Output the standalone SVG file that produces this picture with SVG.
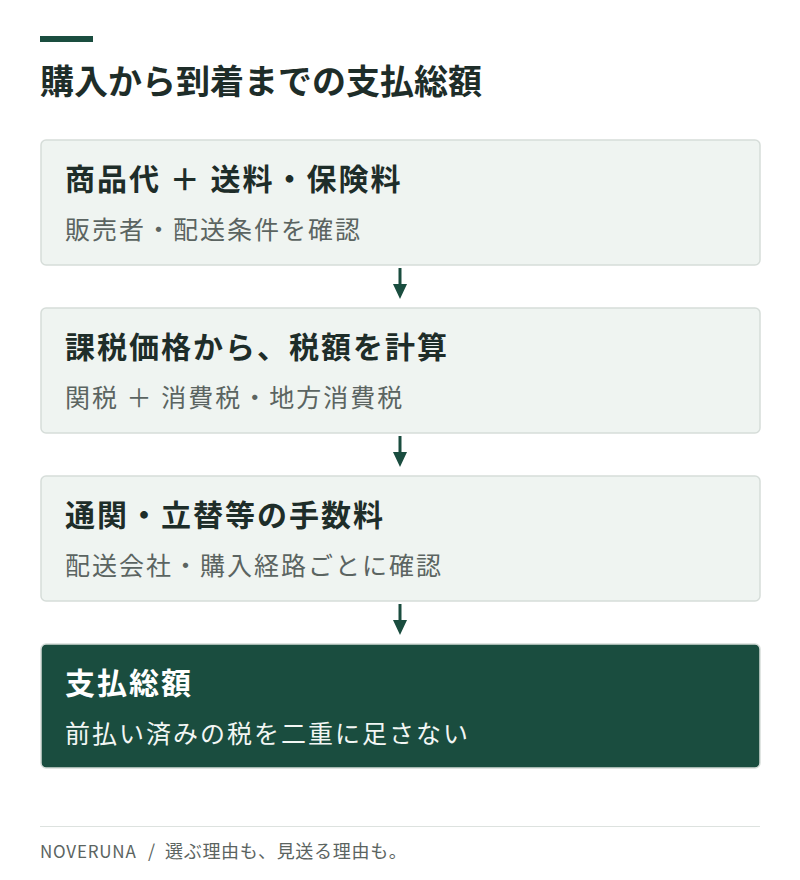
<svg xmlns="http://www.w3.org/2000/svg" width="800" height="880" viewBox="0 0 800 880">
<style>
text{font-family:"Noto Sans CJK JP","Noto Sans",sans-serif;}
.box{fill:#eff4f1;stroke:#d6ddd9;stroke-width:1.5;}
.boxd{fill:#1a4d3f;stroke:#d6ddd9;stroke-width:1.5;}
.t{font-size:30px;font-weight:700;fill:#1e2d29;letter-spacing:2px;}
.s{font-size:25px;fill:#5b6461;letter-spacing:2px;}
.tw{font-size:30px;font-weight:700;fill:#ffffff;letter-spacing:2px;}
.sw{font-size:25px;fill:#f2f6f4;letter-spacing:2px;}
.arr{stroke:#1a4d3f;stroke-width:3;}
.head{fill:#1a4d3f;}
.ft{font-size:18px;fill:#5b6461;}
</style>
<rect width="800" height="880" fill="#ffffff"/>
<g id="header">
<rect x="40" y="36" width="53" height="6" fill="#1a4d3f"/>
<text x="40" y="94" style="font-size:34px;font-weight:700;fill:#1e2d29;">購入から到着までの支払総額</text>
</g>
<g id="node1">
<rect class="box" x="41" y="140" width="719" height="125" rx="5"/>
<text class="t" x="65" y="190">商品代 ＋ 送料・保険料</text>
<text class="s" x="65" y="239">販売者・配送条件を確認</text>
</g>
<g id="node2">
<rect class="box" x="41" y="308" width="719" height="125" rx="5"/>
<text class="t" x="65" y="358">課税価格から、税額を計算</text>
<text class="s" x="65" y="407">関税 ＋ 消費税・地方消費税</text>
</g>
<g id="node3">
<rect class="box" x="41" y="476" width="719" height="125" rx="5"/>
<text class="t" x="65" y="526">通関・立替等の手数料</text>
<text class="s" x="65" y="575">配送会社・購入経路ごとに確認</text>
</g>
<g id="node4">
<rect class="boxd" x="41" y="644" width="719" height="124" rx="5"/>
<text class="tw" x="65" y="694">支払総額</text>
<text class="sw" x="65" y="743">前払い済みの税を二重に足さない</text>
</g>
<g id="connectors">
<line class="arr" x1="400" y1="268" x2="400" y2="285"/>
<path class="head" d="M393,284 L407,284 L400,299 Z"/>
<line class="arr" x1="400" y1="436" x2="400" y2="453"/>
<path class="head" d="M393,452 L407,452 L400,467 Z"/>
<line class="arr" x1="400" y1="604" x2="400" y2="621"/>
<path class="head" d="M393,620 L407,620 L400,635 Z"/>
</g>
<g id="footer">
<line x1="40" y1="826.5" x2="760" y2="826.5" stroke="#dde2df" stroke-width="1"/>
<text class="ft" x="40" y="858"><tspan style="font-size:17px;letter-spacing:0.8px;">NOVERUNA</tspan><tspan x="148">/</tspan><tspan x="165" style="letter-spacing:0.7px;">選ぶ理由も、見送る理由も。</tspan></text>
</g>
</svg>
